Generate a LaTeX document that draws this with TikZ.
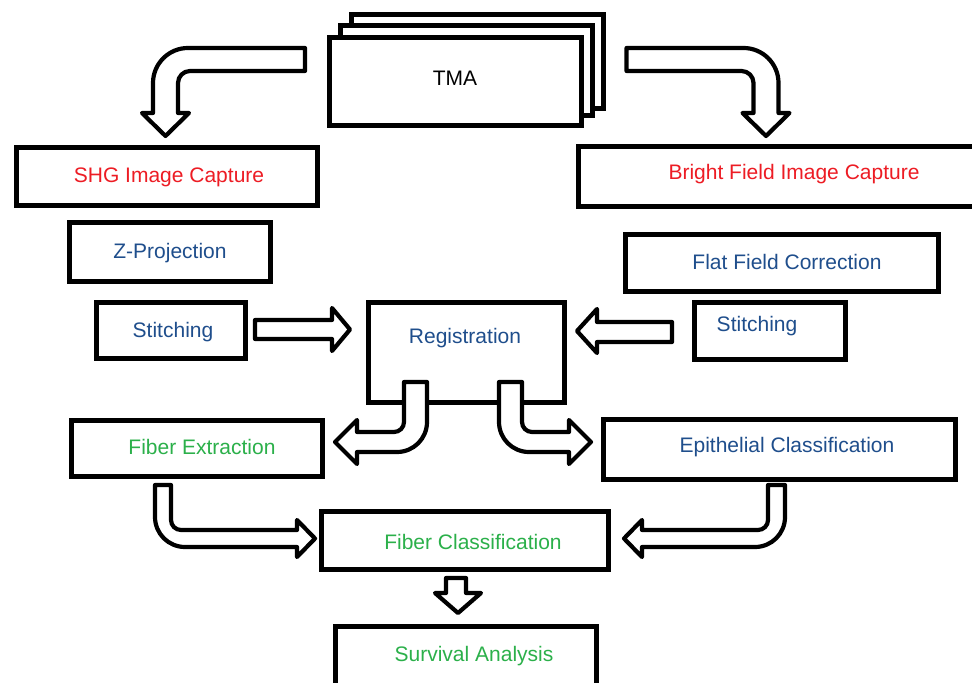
\documentclass[tikz,border=0pt]{standalone}
\usepackage{fontspec}
\setmainfont{Liberation Sans}
\definecolor{RedClr}{RGB}{237,28,36}
\definecolor{BlueClr}{RGB}{31,78,140}
\definecolor{GreenClr}{RGB}{43,176,74}

\begin{document}
\begin{tikzpicture}[x=0.5pt,y=-0.5pt,
  box/.style={draw=black,line width=2.5pt,fill=white,inner sep=0pt},
  lbl/.style={font=\fontsize{10.5}{12}\selectfont,inner sep=0pt,text height=7.5pt,text depth=0pt},
  blockarrow/.style={draw=black,fill=white,line width=2.1pt,line join=round}]
\useasboundingbox (0,0) rectangle (972,683);
\clip (0,0) rectangle (972,683);

% the stack of slides
\node[box,minimum width=126pt,minimum height=47pt] (tma3) at (477,61.5) {};
\node[box,minimum width=126pt,minimum height=45pt] (tma2) at (466,71) {};
\node[box,minimum width=126pt,minimum height=44pt] (tma1) at (455,81.5) {};
\node[lbl] (tma) at (455,78) {TMA};

% boxes
\node[box,minimum width=150.5pt,minimum height=29pt] (shg) at (167,177) {};
\node[box,minimum width=211pt,minimum height=30pt] (bright) at (789,176.25) {};
\node[box,minimum width=100.5pt,minimum height=29.5pt] (zproj) at (169.5,252.5) {};
\node[box,minimum width=156.5pt,minimum height=28.5pt] (flat) at (782,263) {};
\node[box,minimum width=74.5pt,minimum height=28pt] (stitchL) at (171,330.5) {};
\node[box,minimum width=98pt,minimum height=49.5pt] (reg) at (466,352.5) {};
\node[box,minimum width=75.5pt,minimum height=28.5pt] (stitchR) at (770,331) {};
\node[box,minimum width=125.5pt,minimum height=28pt] (fibext) at (197,448.5) {};
\node[box,minimum width=176pt,minimum height=30pt] (epi) at (779,449) {};
\node[box,minimum width=143.5pt,minimum height=29pt] (fibcls) at (465,540.5) {};
\node[box,minimum width=130.5pt,minimum height=46.5pt] (surv) at (466,673) {};

% labels
\node[lbl,RedClr] (shg-t) at (169,175) {SHG Image Capture};
\node[lbl,RedClr] (bright-t) at (794,172) {Bright Field Image Capture};
\node[lbl,BlueClr] (zproj-t) at (170,251) {Z-Projection};
\node[lbl,BlueClr] (flat-t) at (787,262) {Flat Field Correction};
\node[lbl,BlueClr] (stitchL-t) at (173,330) {Stitching};
\node[lbl,BlueClr] (reg-t) at (465,336) {Registration};
\node[lbl,BlueClr] (stitchR-t) at (757,324) {Stitching};
\node[lbl,GreenClr] (fibext-t) at (202,447) {Fiber Extraction};
\node[lbl,BlueClr] (epi-t) at (787,445) {Epithelial Classification};
\node[lbl,GreenClr] (fibcls-t) at (473,542) {Fiber Classification};
\node[lbl,GreenClr] (surv-t) at (474,654) {Survival Analysis};

% block arrows
\draw[blockarrow] (305,48) -- (188,48) .. controls (168.7,48) and (153,63.7) .. (153,83)
  -- (153,113) -- (142,113) -- (165.5,136) -- (189,113) -- (178,113) -- (178,83)
  .. controls (178,76.4) and (183.4,71) .. (190,71) -- (305,71) -- cycle;
\draw[blockarrow] (626.5,48) -- (743.5,48) .. controls (762.8,48) and (778.5,63.7) .. (778.5,83)
  -- (778.5,113) -- (789.5,113) -- (766,136) -- (742.5,113) -- (753.5,113) -- (753.5,83)
  .. controls (753.5,76.4) and (748.1,71) .. (741.5,71) -- (626.5,71) -- cycle;
\draw[blockarrow] (255,320) -- (332,320) -- (332,308) -- (350,329.5) -- (332,351)
  -- (332,339) -- (255,339) -- cycle;
\draw[blockarrow] (672,322) -- (597,322) -- (597,309) -- (577,331) -- (597,353)
  -- (597,342) -- (672,342) -- cycle;
\draw[blockarrow] (404,382) -- (427,382) -- (427,422) .. controls (427,438.6) and (413.6,452) .. (397,452)
  -- (357,452) -- (357,464) -- (335,442) -- (357,420) -- (357,432) -- (394,432)
  .. controls (399.5,432) and (404,427.5) .. (404,422) -- cycle;
\draw[blockarrow] (522,382) -- (499,382) -- (499,422) .. controls (499,438.6) and (512.4,452) .. (529,452)
  -- (569,452) -- (569,464) -- (591,442) -- (569,420) -- (569,432) -- (532,432)
  .. controls (526.5,432) and (522,427.5) .. (522,422) -- cycle;
\draw[blockarrow] (155,485) -- (171,485) -- (171,520) .. controls (171,525.5) and (175.5,530) .. (181,530)
  -- (297,530) -- (297,520) -- (315,538.5) -- (297,557) -- (297,547) -- (185,547)
  .. controls (168.4,547) and (155,533.6) .. (155,517) -- cycle;
\draw[blockarrow] (785,485) -- (768,485) -- (768,520) .. controls (768,525.5) and (763.5,530) .. (758,530)
  -- (642,530) -- (642,520) -- (624,538.5) -- (642,557) -- (642,547) -- (755,547)
  .. controls (771.6,547) and (785,533.6) .. (785,517) -- cycle;
\draw[blockarrow] (446,578) -- (466,578) -- (466,593) -- (481,593) -- (458,613)
  -- (435,593) -- (446,593) -- cycle;

\end{tikzpicture}
\end{document}
